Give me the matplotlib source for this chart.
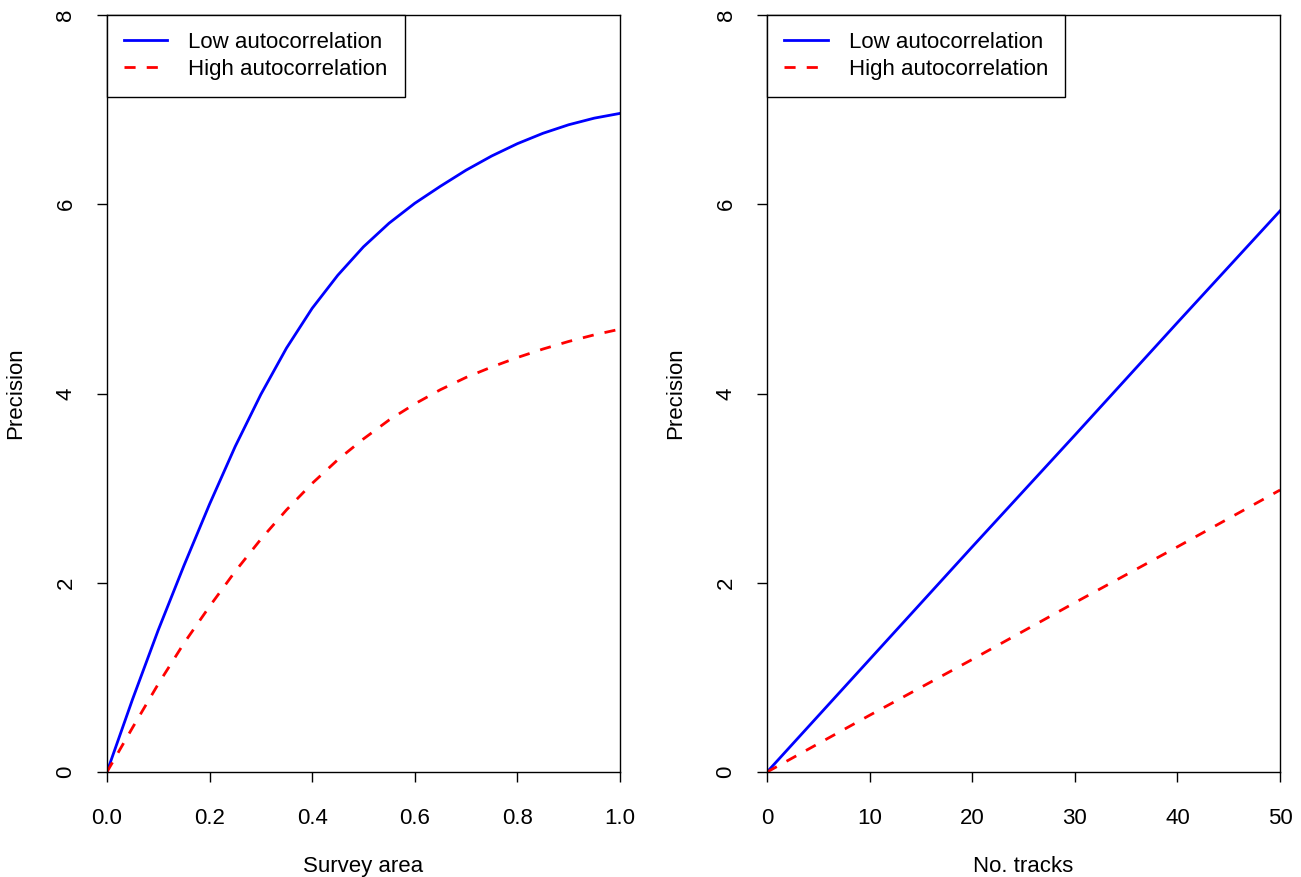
from matplotlib import pyplot as plt

# left panel: precision vs survey area
area = [0.0, 0.05, 0.1, 0.15, 0.2, 0.25, 0.3, 0.35, 0.4, 0.45, 0.5,
        0.55, 0.6, 0.65, 0.7, 0.75, 0.8, 0.85, 0.9, 0.95, 1.0]
area_low = [0.0, 0.77, 1.50, 2.18, 2.83, 3.44, 3.99, 4.48, 4.90, 5.25, 5.55,
            5.80, 6.01, 6.19, 6.36, 6.51, 6.64, 6.75, 6.84, 6.91, 6.96]
area_high = [0.0, 0.47, 0.93, 1.36, 1.75, 2.12, 2.46, 2.77, 3.05, 3.30, 3.52,
             3.72, 3.89, 4.04, 4.17, 4.28, 4.38, 4.47, 4.55, 4.62, 4.68]

# right panel: precision vs number of tracks
tracks = [0, 10, 20, 30, 40, 50]
tracks_low = [0.0, 1.19, 2.38, 3.56, 4.75, 5.93]
tracks_high = [0.0, 0.60, 1.19, 1.79, 2.38, 2.98]

x_ticks_area = [0.0, 0.2, 0.4, 0.6, 0.8, 1.0]
x_ticks_tracks = [0, 10, 20, 30, 40, 50]
y_ticks = [0, 2, 4, 6, 8]

plt.rcParams["font.family"] = ["Liberation Sans", "DejaVu Sans"]
plt.rcParams["font.size"] = 16

fig = plt.figure(figsize=(13.01, 8.77), dpi=100)
ax0 = fig.add_axes([0.0822, 0.1197, 0.3943, 0.8632])
ax1 = fig.add_axes([0.5896, 0.1197, 0.3943, 0.8632])


def draw_panel(ax, x, low, high, xticks, xlabel, xfmt):
    ax.plot(x, low, color="#0000ff", linewidth=2, label="Low autocorrelation")
    ax.plot(x, high, color="#ff0000", linewidth=2, dashes=(4, 4),
            label="High autocorrelation")
    ax.set_xlim(xticks[0], xticks[-1])
    ax.set_ylim(0, 8)
    ax.set_xticks(xticks)
    ax.set_xticklabels([xfmt.format(t) for t in xticks])
    ax.set_yticks(y_ticks)
    ax.set_yticklabels([str(t) for t in y_ticks], rotation=90, va="center")
    ax.tick_params(direction="out", length=7, width=1)
    ax.tick_params(axis="x", pad=19)
    ax.tick_params(axis="y", pad=15)
    for spine in ax.spines.values():
        spine.set_linewidth(1)
        spine.set_color("black")
    ax.set_xlabel(xlabel, labelpad=19)
    ax.set_ylabel("Precision", labelpad=21)

    # legend box flush with the top-left corner, like R's legend("topleft")
    leg = ax.legend(loc="upper left", bbox_to_anchor=(0, 1), borderaxespad=0,
                    fancybox=False, framealpha=1, edgecolor="black",
                    handlelength=1.95, handletextpad=0.95, borderpad=0.77,
                    labelspacing=0.27)
    leg.get_frame().set_linewidth(1)


draw_panel(ax0, area, area_low, area_high, x_ticks_area, "Survey area", "{:.1f}")
draw_panel(ax1, tracks, tracks_low, tracks_high, x_ticks_tracks, "No. tracks", "{}")

plt.savefig("out.png")
